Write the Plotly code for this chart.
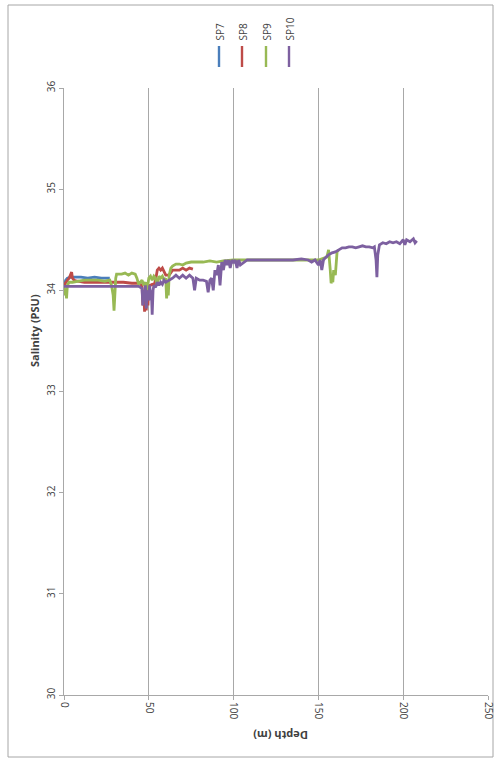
import plotly.graph_objects as go

# ---- data (depth in m, salinity in PSU) ----
sp7_depth = [0, 1, 2, 4, 6, 10, 14, 18, 22, 26, 27]
sp7_sal = [34.05, 34.1, 34.12, 34.13, 34.13, 34.13, 34.12, 34.13, 34.12, 34.12, 34.12]

sp8_depth = [0, 1, 2, 3, 4, 4.5, 5, 6, 8, 12, 16, 20, 25, 30, 35, 40, 44, 46, 46.5, 47, 47.5,
             48, 48.5, 49, 49.5, 50, 51, 52, 53, 54, 55, 56, 57, 58, 59, 60, 62, 64, 66, 68,
             70, 72, 74, 76]
sp8_sal = [34.05, 34.08, 34.1, 34.12, 34.17, 34.18, 34.12, 34.1, 34.09, 34.08, 34.08, 34.08,
           34.08, 34.08, 34.08, 34.07, 34.07, 34.05, 33.85, 34.0, 33.79, 34.02, 33.8, 34.05,
           33.85, 34.05, 34.05, 34.06, 34.05, 34.1, 34.2, 34.22, 34.2, 34.22, 34.18, 34.15,
           34.15, 34.2, 34.2, 34.2, 34.22, 34.2, 34.22, 34.21]

sp9_depth = [0, 0.5, 1, 1.5, 2, 3, 5, 8, 12, 16, 20, 24, 27, 28, 29, 29.5, 30, 30.5, 31, 32,
             34, 36, 38, 40, 42, 43, 44, 45, 46, 47, 48, 49, 50, 51, 52, 53, 54, 55, 56, 57,
             58, 59, 60, 60.5, 61, 61.5, 62, 63, 64, 66, 68, 70, 72, 75, 78, 82, 86, 90, 94,
             98, 100, 110, 120, 130, 140, 150, 155, 156, 157, 157.5, 158, 158.5, 159, 160,
             161, 162]
sp9_sal = [34.05, 33.95, 34.02, 33.92, 34.05, 34.08, 34.08, 34.09, 34.1, 34.1, 34.1, 34.09,
           34.1, 34.05, 33.95, 33.8, 34.05, 34.12, 34.16, 34.16, 34.16, 34.17, 34.15, 34.17,
           34.16, 34.12, 34.06, 34.08, 34.1, 34.05, 34.08, 34.0, 34.12, 34.14, 34.1, 34.14,
           34.12, 34.05, 34.14, 34.12, 34.14, 34.1, 34.12, 33.92, 34.05, 33.95, 34.15,
           34.22, 34.24, 34.26, 34.26, 34.25, 34.27, 34.28, 34.28, 34.28, 34.29, 34.28,
           34.29, 34.3, 34.3, 34.3, 34.3, 34.3, 34.3, 34.3, 34.33, 34.4, 34.2, 34.07, 34.1,
           34.08, 34.2, 34.15, 34.38, 34.4]

sp10_depth = [0, 5, 10, 20, 30, 40, 44, 46, 46.5, 47, 47.5, 48, 48.5, 49, 50, 50.5, 51, 51.5,
              52, 52.5, 53, 54, 55, 56, 57, 58, 59, 60, 62, 64, 66, 68, 70, 72, 74, 76, 77,
              78, 80, 82, 84, 85, 86, 87, 88, 89, 90, 91, 92, 93, 94, 95, 96, 97, 98, 99, 100,
              101, 102, 103, 104, 106, 108, 112, 116, 120, 125, 130, 135, 140, 144, 146, 148,
              150, 151, 152, 153, 154, 156, 158, 160, 162, 164, 166, 168, 170, 172, 174, 176,
              178, 180, 182, 183, 184, 184.5, 185, 186, 188, 190, 192, 194, 196, 198, 200,
              201, 202, 204, 206, 207, 208]
sp10_sal = [34.04, 34.04, 34.04, 34.04, 34.04, 34.04, 34.04, 34.02, 33.85, 34.0, 33.9, 34.05,
            33.82, 34.0, 33.9, 34.05, 33.95, 34.0, 33.76, 34.0, 34.05, 34.03, 34.08, 34.05,
            34.08, 34.06, 34.1, 34.08, 34.1, 34.12, 34.15, 34.12, 34.15, 34.12, 34.15, 34.12,
            34.0, 34.12, 34.1, 34.1, 34.09, 33.98, 34.1, 34.12, 34.0, 34.2, 34.15, 34.25,
            34.05, 34.28, 34.2, 34.3, 34.25, 34.3, 34.22, 34.3, 34.27, 34.3, 34.22, 34.3,
            34.25, 34.28, 34.3, 34.3, 34.3, 34.3, 34.3, 34.3, 34.3, 34.31, 34.3, 34.28, 34.3,
            34.25, 34.3, 34.2, 34.3, 34.32, 34.35, 34.37, 34.38, 34.4, 34.42, 34.42, 34.43,
            34.43, 34.42, 34.43, 34.44, 34.43, 34.43, 34.42, 34.43, 34.3, 34.13, 34.35,
            34.45, 34.47, 34.46, 34.48, 34.47, 34.48, 34.46, 34.5, 34.45, 34.5, 34.48, 34.51,
            34.47, 34.49]

series_names = ["SP7", "SP8", "SP9", "SP10"]
series_colors = ["#4A7EBB", "#BE4B48", "#98B954", "#7D60A0"]
depths = [sp7_depth, sp8_depth, sp9_depth, sp10_depth]
sals = [sp7_sal, sp8_sal, sp9_sal, sp10_sal]

x_ticks = [0, 50, 100, 150, 200, 250]
y_ticks = [30, 31, 32, 33, 34, 35, 36]

FONT = "Open Sans"
TXT = "#404040"
GRID = "#A8A8A8"

fig = go.Figure()
for n, c, d, s in zip(series_names, series_colors, depths, sals):
    fig.add_trace(go.Scatter(x=d, y=s, mode="lines", name=n,
                             line=dict(color=c, width=2.8), showlegend=False))

# plot area pixel geometry
L, R, T, B = 64, 488, 88, 695
W, H = R - L, B - T

def px_x(p):
    return (p - L) / W

def px_y(p):
    return (B - p) / H

shapes = []
annotations = []
# outer chart border
shapes.append(dict(type="rect", xref="paper", yref="paper",
                   x0=px_x(8), x1=px_x(493), y0=px_y(757), y1=px_y(5),
                   line=dict(color="#A6A6A6", width=1), layer="below"))
# legend
leg_x = [219, 242, 266, 289]
for n, c, lx in zip(series_names, series_colors, leg_x):
    shapes.append(dict(type="line", xref="paper", yref="paper",
                       x0=px_x(lx), x1=px_x(lx), y0=px_y(67), y1=px_y(46),
                       line=dict(color=c, width=2.4)))
    annotations.append(dict(text=n, xref="paper", yref="paper", x=px_x(lx + 1),
                            y=px_y(43), xanchor="center", yanchor="bottom",
                            textangle=-90, showarrow=False,
                            font=dict(family=FONT, size=10, color=TXT)))
# axis titles
annotations.append(dict(text="<b>Depth (m)</b>", xref="paper", yref="paper",
                        x=px_x(281), y=px_y(736), xanchor="center", yanchor="middle",
                        textangle=180, showarrow=False,
                        font=dict(family=FONT, size=11, color=TXT)))
annotations.append(dict(text="<b>Salinity (PSU)</b>", xref="paper", yref="paper",
                        x=px_x(34), y=px_y(331), xanchor="center", yanchor="middle",
                        textangle=-90, showarrow=False,
                        font=dict(family=FONT, size=11, color=TXT)))

fig.update_layout(
    width=497, height=758,
    margin=dict(l=L, r=497 - R, t=T, b=758 - B, autoexpand=False),
    paper_bgcolor="white", plot_bgcolor="white",
    shapes=shapes, annotations=annotations,
    xaxis=dict(range=[0, 250], tickvals=x_ticks, ticktext=[str(v) for v in x_ticks],
               tickangle=90, showgrid=True, gridcolor=GRID, gridwidth=1,
               showline=True, linecolor=GRID, ticks="outside", ticklen=4,
               tickcolor=GRID, zeroline=False, automargin=False,
               tickfont=dict(family=FONT, size=10, color=TXT)),
    yaxis=dict(range=[30, 36], tickvals=y_ticks, ticktext=[str(v) for v in y_ticks],
               tickangle=-90, showgrid=False, showline=True, linecolor=GRID,
               ticks="outside", ticklen=4, tickcolor=GRID, zeroline=False,
               automargin=False,
               tickfont=dict(family=FONT, size=10, color=TXT)),
)

fig.write_html("out.html")
